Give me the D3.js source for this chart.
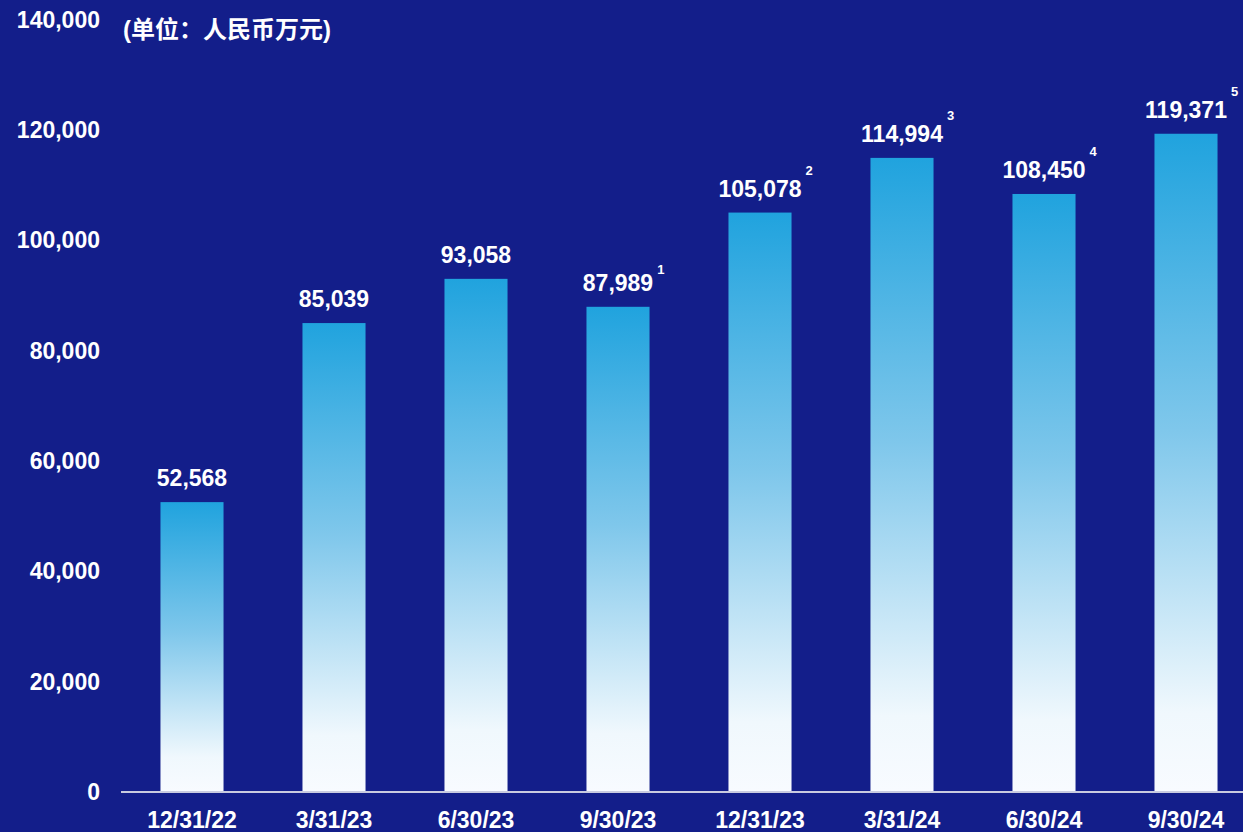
<!DOCTYPE html>
<html>
<head>
<meta charset="utf-8">
<script src="https://cdn.jsdelivr.net/npm/d3@7"></script>
<style>
  html, body { margin: 0; padding: 0; background: #131e8a; }
  text { font-family: "Liberation Sans", Arial, "Noto Sans CJK SC", sans-serif; font-weight: bold; fill: #fff; }
</style>
</head>
<body>
<div id="chart"></div>
<script>
// data
var dates = ["12/31/22", "3/31/23", "6/30/23", "9/30/23", "12/31/23", "3/31/24", "6/30/24", "9/30/24"];
var values = [52568, 85039, 93058, 87989, 105078, 114994, 108450, 119371];
var notes = ["", "", "", "1", "2", "3", "4", "5"];
var yTicks = [0, 20000, 40000, 60000, 80000, 100000, 120000, 140000];
var unitTitle = "(单位：人民币万元)";

function init(){
  var w = 1243, h = 832;

  var svg = d3.select("#chart")
    .append("svg")
      .attr("width", w)
      .attr("height", h);

  svg.append("rect")
    .attr("width", w).attr("height", h)
    .attr("fill", "#131e8a");

  // bar gradient, per bar (objectBoundingBox)
  var grad = svg.append("defs").append("linearGradient")
    .attr("id", "barGrad")
    .attr("x1", 0).attr("y1", 0).attr("x2", 0).attr("y2", 1);
  grad.append("stop").attr("offset", "0%").attr("stop-color", "#20a3de");
  grad.append("stop").attr("offset", "45%").attr("stop-color", "#7fc7eb");
  grad.append("stop").attr("offset", "88%").attr("stop-color", "#f0f8fd");
  grad.append("stop").attr("offset", "100%").attr("stop-color", "#f8fbff");

  var x = d3.scaleBand()
    .domain(dates)
    .range([121, 1257])
    .paddingInner(0.556)
    .paddingOuter(0.278);

  var y = d3.scaleLinear()
    .domain([0, 140000])
    .range([792, 20]);

  // y tick labels (no axis line)
  var yAxis = svg.append("g")
    .attr("transform", "translate(100,0)")
    .call(d3.axisLeft(y).tickValues(yTicks).tickSize(0).tickPadding(0).tickFormat(d3.format(",")));
  yAxis.select(".domain").remove();
  yAxis.selectAll("text")
    .attr("fill", "#fff")
    .style("font-size", "23px")
    .style("font-family", "'Liberation Sans', Arial, sans-serif")
    .style("font-weight", "bold");

  // unit title
  svg.append("text")
    .attr("x", 123)
    .attr("y", 38)
    .style("font-size", "24px")
    .text(unitTitle);

  // bars
  svg.selectAll(".bar")
    .data(values)
    .enter().append("rect")
      .attr("class", "bar")
      .attr("x", function(d, i){ return x(dates[i]); })
      .attr("y", function(d){ return y(d); })
      .attr("width", x.bandwidth())
      .attr("height", function(d){ return y(0) - y(d); })
      .attr("fill", "url(#barGrad)");

  // baseline
  svg.append("line")
    .attr("x1", 121).attr("x2", w)
    .attr("y1", y(0)).attr("y2", y(0))
    .attr("stroke", "#c9cbe0")
    .attr("stroke-width", 2);

  // x labels
  var xAxis = svg.append("g")
    .attr("transform", "translate(0," + y(0) + ")")
    .call(d3.axisBottom(x).tickSize(0).tickPadding(0));
  xAxis.select(".domain").remove();
  xAxis.selectAll("text")
    .attr("fill", "#fff")
    .attr("dy", "36px")
    .style("font-size", "23px")
    .style("font-family", "'Liberation Sans', Arial, sans-serif")
    .style("font-weight", "bold");

  // value labels
  var fmt = d3.format(",");
  var labels = svg.selectAll(".val")
    .data(values)
    .enter().append("text")
      .attr("class", "val")
      .attr("x", function(d, i){ return x(dates[i]) + x.bandwidth() / 2; })
      .attr("y", function(d){ return y(d) - 16; })
      .attr("text-anchor", "middle")
      .style("font-size", "23px")
      .text(function(d){ return fmt(d); });

  // footnote markers
  labels.each(function(d, i){
    if (!notes[i]) return;
    var len = this.getComputedTextLength();
    var cx = x(dates[i]) + x.bandwidth() / 2;
    svg.append("text")
      .attr("x", cx + len / 2 + 4)
      .attr("y", y(d) - 16 - (i === 3 ? 17 : 22))
      .style("font-size", "13px")
      .text(notes[i]);
  });
}
window.onload = init;
</script>
</body>
</html>
